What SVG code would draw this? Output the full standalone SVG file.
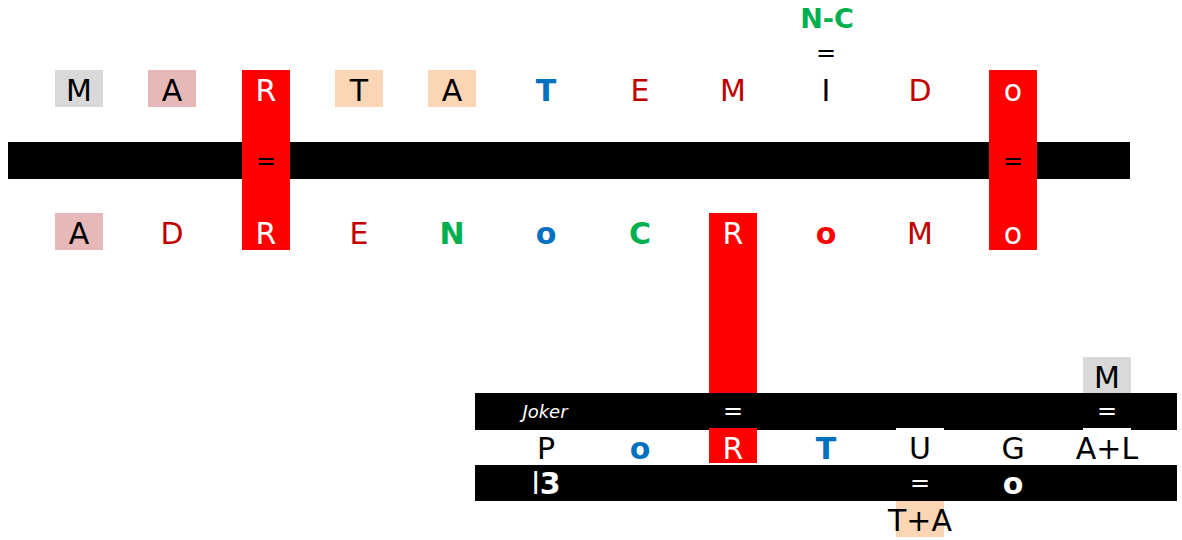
<svg xmlns="http://www.w3.org/2000/svg" width="1182" height="540" viewBox="0 0 1182 540">
<style>
text{font-family:"DejaVu Sans","Liberation Sans",sans-serif;font-size:30px;text-anchor:middle;dominant-baseline:central}
.b{font-weight:bold}
.k{fill:#000}.w{fill:#fff}.dr{fill:#c00000}.bl{fill:#0070c0}.gr{fill:#00b050}.rd{fill:#ff0000}
.eq{font-size:24px}
.gray{fill:#d9d9d9}.pink{fill:#e6b9b8}.peach{fill:#fcd5b5}.red{fill:#ff0000}.bar{fill:#000}
</style>
<rect width="1182" height="540" fill="#fff"/>
<g id="bars">
<rect class="bar" x="8" y="142" width="1122" height="37"/>
<rect class="bar" x="475" y="393" width="702" height="37"/>
<rect class="bar" x="475" y="465" width="702" height="36"/>
</g>
<g id="columns">
<rect class="red" x="242" y="70" width="48" height="180"/>
<rect class="red" x="989" y="70" width="48" height="180"/>
<rect class="red" x="709" y="213" width="48" height="180"/>
<rect class="red" x="709" y="428" width="48" height="35"/>
<rect fill="#fff" x="896" y="428" width="48" height="37"/>
<rect fill="#fff" x="1083" y="428" width="48" height="37"/>
</g>
<g id="top-row">
<rect class="gray" x="55" y="70" width="48" height="37"/><text class="k" x="79" y="90">M</text>
<rect class="pink" x="148" y="70" width="48" height="37"/><text class="k" x="172" y="90">A</text>
<text class="w" x="266" y="90">R</text>
<rect class="peach" x="335" y="70" width="48" height="37"/><text class="k" x="359" y="90">T</text>
<rect class="peach" x="428" y="70" width="48" height="37"/><text class="k" x="452" y="90">A</text>
<text class="bl b" x="546" y="90">T</text>
<text class="dr" x="640" y="90">E</text>
<text class="dr" x="733" y="90">M</text>
<text class="k" x="826" y="90">I</text>
<text class="dr" x="920" y="90">D</text>
<text class="w" x="1013" y="90">o</text>
</g>
<g id="nc">
<text class="gr b" x="827" y="18" style="font-size:27px">N-C</text>
<text class="k eq" x="826" y="53">=</text>
</g>
<g id="middle-eq">
<text class="k eq" x="266" y="161">=</text>
<text class="k eq" x="1013" y="161">=</text>
</g>
<g id="bottom-row">
<rect class="pink" x="55" y="213" width="48" height="37"/><text class="k" x="79" y="233">A</text>
<text class="dr" x="172" y="233">D</text>
<text class="w" x="266" y="233">R</text>
<text class="dr" x="359" y="233">E</text>
<text class="gr b" x="452" y="233">N</text>
<text class="bl b" x="546" y="233">o</text>
<text class="gr b" x="640" y="233">C</text>
<text class="w" x="733" y="233">R</text>
<text class="rd b" x="826" y="233">o</text>
<text class="dr" x="920" y="233">M</text>
<text class="w" x="1013" y="233">o</text>
</g>
<g id="lower">
<rect class="gray" x="1083" y="357" width="48" height="36"/><text class="k" x="1107" y="377">M</text>
<text class="w" x="545" y="411" style="font-size:18px;font-style:italic">Joker</text>
<text class="w eq" x="733" y="411">=</text>
<text class="w eq" x="1107" y="411">=</text>
<text class="k" x="546" y="448">P</text>
<text class="bl b" x="640" y="448">o</text>
<text class="w" x="733" y="448">R</text>
<text class="bl b" x="826" y="448">T</text>
<text class="k" x="920" y="448">U</text>
<text class="k" x="1013" y="448">G</text>
<text class="k" x="1107" y="448">A+L</text>
<text class="w" x="546" y="483">l<tspan class="b">3</tspan></text>
<text class="w eq" x="920" y="483">=</text>
<text class="w b" x="1013" y="483">o</text>
<rect class="peach" x="896" y="501" width="48" height="36"/><text class="k" x="920" y="520">T+A</text>
</g>
</svg>
